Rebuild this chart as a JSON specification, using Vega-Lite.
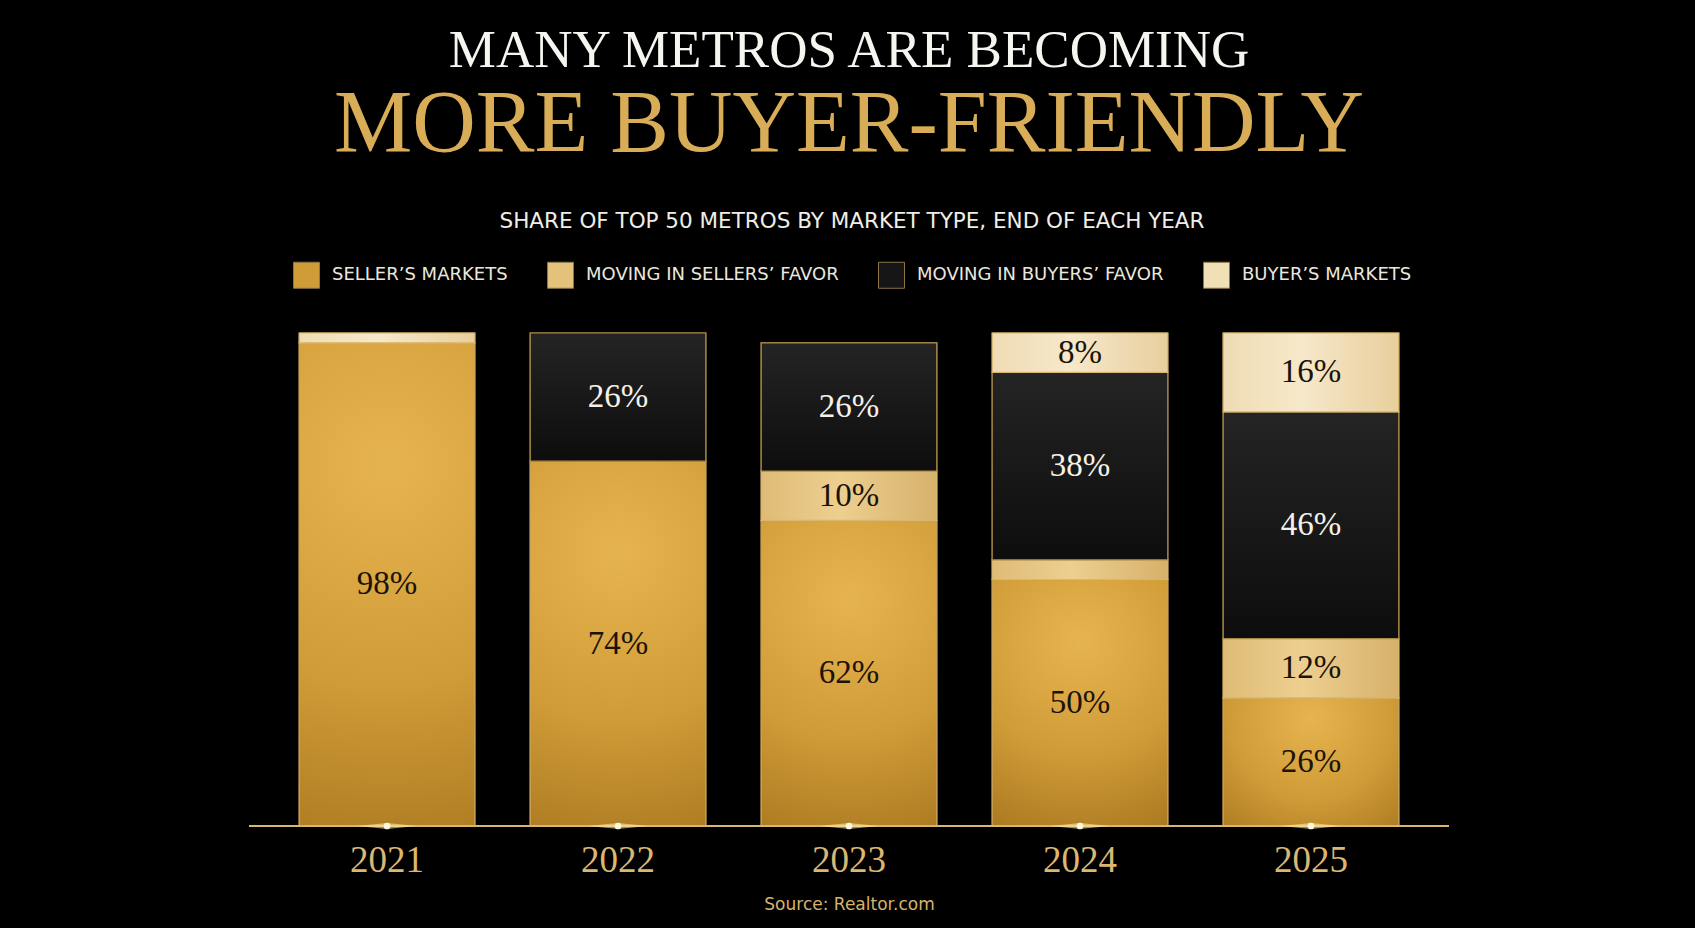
{
  "$schema": "https://vega.github.io/schema/vega-lite/v6.json",
  "autosize": {"type": "none"},
  "padding": {"left": 249, "top": 333, "right": 246, "bottom": 102},
  "width": 1200,
  "height": 493,
  "background": "#000000",
  "title": {
    "text": "MANY METROS ARE BECOMING",
    "subtitle": "MORE BUYER-FRIENDLY",
    "anchor": "middle",
    "font": "Liberation Serif",
    "fontSize": 53,
    "fontWeight": "normal",
    "color": "#f7f5f0",
    "subtitleFont": "Liberation Serif",
    "subtitleFontSize": 88,
    "subtitleFontWeight": "normal",
    "subtitleColor": "#d9ad57",
    "subtitlePadding": 3,
    "offset": 42
  },
  "data": {
    "values": [
      {"year": "2021", "type": "SELLER’S MARKETS", "value": 98, "label": "98%", "order": 1},
      {"year": "2021", "type": "BUYER’S MARKETS", "value": 2, "label": "", "order": 4},
      {"year": "2022", "type": "SELLER’S MARKETS", "value": 74, "label": "74%", "order": 1},
      {"year": "2022", "type": "MOVING IN BUYERS’ FAVOR", "value": 26, "label": "26%", "order": 3},
      {"year": "2023", "type": "SELLER’S MARKETS", "value": 62, "label": "62%", "order": 1},
      {"year": "2023", "type": "MOVING IN SELLERS’ FAVOR", "value": 10, "label": "10%", "order": 2},
      {"year": "2023", "type": "MOVING IN BUYERS’ FAVOR", "value": 26, "label": "26%", "order": 3},
      {"year": "2024", "type": "SELLER’S MARKETS", "value": 50, "label": "50%", "order": 1},
      {"year": "2024", "type": "MOVING IN SELLERS’ FAVOR", "value": 4, "label": "", "order": 2},
      {"year": "2024", "type": "MOVING IN BUYERS’ FAVOR", "value": 38, "label": "38%", "order": 3},
      {"year": "2024", "type": "BUYER’S MARKETS", "value": 8, "label": "8%", "order": 4},
      {"year": "2025", "type": "SELLER’S MARKETS", "value": 26, "label": "26%", "order": 1},
      {"year": "2025", "type": "MOVING IN SELLERS’ FAVOR", "value": 12, "label": "12%", "order": 2},
      {"year": "2025", "type": "MOVING IN BUYERS’ FAVOR", "value": 46, "label": "46%", "order": 3},
      {"year": "2025", "type": "BUYER’S MARKETS", "value": 16, "label": "16%", "order": 4}
    ]
  },
  "layer": [
    {
      "mark": {"type": "bar", "stroke": "#c9a35b", "strokeWidth": 1.2},
      "encoding": {
        "x": {
          "field": "year",
          "type": "nominal",
          "scale": {"paddingInner": 0.24, "paddingOuter": 0.2175},
          "axis": {
            "labelAngle": 0,
            "labelFont": "Liberation Serif",
            "labelFontSize": 37,
            "labelColor": "#dbb872",
            "labelPadding": 16,
            "ticks": false,
            "domain": false,
            "title": "Source: Realtor.com",
            "titleFont": "DejaVu Sans",
            "titleFontSize": 17,
            "titleFontWeight": "normal",
            "titleColor": "#d6b36d",
            "titlePadding": 18
          }
        },
        "y": {"field": "value", "type": "quantitative", "stack": "zero", "scale": {"domain": [0, 100], "nice": false}, "axis": null},
        "order": {"field": "order", "type": "quantitative"},
        "color": {
          "field": "type",
          "type": "nominal",
          "scale": {
            "domain": ["SELLER’S MARKETS", "MOVING IN SELLERS’ FAVOR", "MOVING IN BUYERS’ FAVOR", "BUYER’S MARKETS"],
            "range": ["#cf9c38", "#e4c27b", "#161616", "#f1dfb6"]
          },
          "legend": {
            "orient": "none",
            "legendX": 44,
            "legendY": -122,
            "direction": "horizontal",
            "title": "SHARE OF TOP 50 METROS BY MARKET TYPE, END OF EACH YEAR",
            "titleFont": "DejaVu Sans",
            "titleFontSize": 21.5,
            "titleFontWeight": "normal",
            "titleColor": "#f0ede6",
            "titleAnchor": "middle",
            "titlePadding": 29,
            "titleLimit": 1200,
            "symbolType": "square",
            "symbolSize": 676,
            "symbolStrokeColor": "#8c7646",
            "symbolStrokeWidth": 1,
            "labelFont": "DejaVu Sans",
            "labelFontSize": 18,
            "labelColor": "#ebe7df",
            "labelOffset": 12,
            "labelLimit": 400,
            "columnPadding": 37
          }
        }
      }
    },
    {
      "mark": {"type": "bar", "stroke": "#c9a35b", "strokeWidth": 1.2, "fill": {"gradient": "radial", "x1": 0.5, "y1": 0.25, "x2": 0.5, "y2": 0.25, "r1": 0, "r2": 0.85, "stops": [{"offset": 0, "color": "#e6b44f"}, {"offset": 0.55, "color": "#cf9b37"}, {"offset": 1, "color": "#a9771f"}]}},
      "encoding": {
        "x": {"field": "year", "type": "nominal"},
        "y": {"field": "value", "type": "quantitative", "stack": "zero"},
        "order": {"field": "order", "type": "quantitative"},
        "opacity": {"condition": {"test": "datum.order === 1", "value": 1}, "value": 0}
      }
    },
    {
      "mark": {"type": "bar", "stroke": "#d9b770", "strokeWidth": 1.2, "fill": {"gradient": "linear", "x1": 0, "y1": 0, "x2": 1, "y2": 0, "stops": [{"offset": 0, "color": "#dfbc76"}, {"offset": 0.45, "color": "#edcf90"}, {"offset": 1, "color": "#d6b16a"}]}},
      "encoding": {
        "x": {"field": "year", "type": "nominal"},
        "y": {"field": "value", "type": "quantitative", "stack": "zero"},
        "order": {"field": "order", "type": "quantitative"},
        "opacity": {"condition": {"test": "datum.order === 2", "value": 1}, "value": 0}
      }
    },
    {
      "mark": {"type": "bar", "stroke": "#a88a48", "strokeWidth": 1.2, "fill": {"gradient": "linear", "x1": 0, "y1": 0, "x2": 0, "y2": 1, "stops": [{"offset": 0, "color": "#242424"}, {"offset": 1, "color": "#0d0d0d"}]}},
      "encoding": {
        "x": {"field": "year", "type": "nominal"},
        "y": {"field": "value", "type": "quantitative", "stack": "zero"},
        "order": {"field": "order", "type": "quantitative"},
        "opacity": {"condition": {"test": "datum.order === 3", "value": 1}, "value": 0}
      }
    },
    {
      "mark": {"type": "bar", "stroke": "#d9b770", "strokeWidth": 1.2, "fill": {"gradient": "linear", "x1": 0, "y1": 0, "x2": 1, "y2": 0, "stops": [{"offset": 0, "color": "#efdcb3"}, {"offset": 0.45, "color": "#f6e8ca"}, {"offset": 1, "color": "#e8cf9d"}]}},
      "encoding": {
        "x": {"field": "year", "type": "nominal"},
        "y": {"field": "value", "type": "quantitative", "stack": "zero"},
        "order": {"field": "order", "type": "quantitative"},
        "opacity": {"condition": {"test": "datum.order === 4", "value": 1}, "value": 0}
      }
    },
    {
      "mark": {"type": "rule", "color": "#d8b66e", "strokeWidth": 2},
      "encoding": {
        "y": {"datum": 0}
      }
    },
    {
      "transform": [{"filter": "datum.order === 1"}],
      "mark": {"type": "point", "filled": true, "shape": "M-1,0L0,-0.1L1,0L0,0.1Z", "size": 3600, "color": "#ffe6a0", "opacity": 0.6},
      "encoding": {
        "x": {"field": "year", "type": "nominal"},
        "y": {"datum": 0}
      }
    },
    {
      "transform": [{"filter": "datum.order === 1"}],
      "mark": {"type": "point", "filled": true, "size": 45, "color": "#fffaea", "opacity": 0.95},
      "encoding": {
        "x": {"field": "year", "type": "nominal"},
        "y": {"datum": 0}
      }
    },
    {
      "mark": {"type": "text", "font": "Liberation Serif", "fontSize": 33, "align": "center", "baseline": "middle"},
      "encoding": {
        "x": {"field": "year", "type": "nominal"},
        "y": {"field": "value", "type": "quantitative", "stack": "zero", "bandPosition": 0.5},
        "order": {"field": "order", "type": "quantitative"},
        "text": {"field": "label"},
        "color": {
          "condition": {"test": "datum.type === 'MOVING IN BUYERS’ FAVOR'", "value": "#f5f1e8"},
          "value": "#1c1308"
        }
      }
    }
  ],
  "config": {"view": {"stroke": null}}
}
